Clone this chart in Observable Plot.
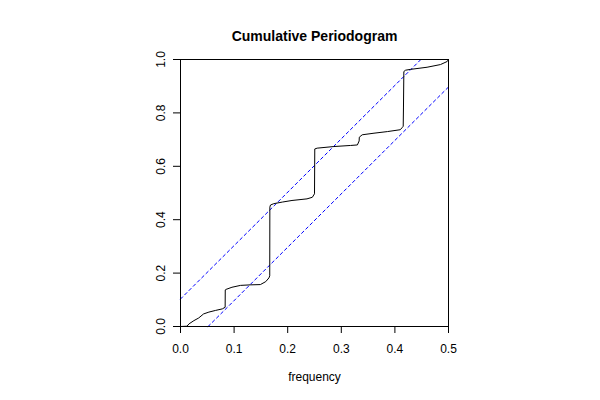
<!DOCTYPE html>
<html>
<head>
<meta charset="utf-8">
<script src="https://cdn.jsdelivr.net/npm/d3@7"></script>
<script src="https://cdn.jsdelivr.net/npm/@observablehq/plot@0.6"></script>
<style>
  html, body { margin: 0; padding: 0; background: #fff; }
  svg { font-family: "Liberation Sans", Arial, Helvetica, sans-serif; }
</style>
</head>
<body>
<div id="chart"></div>
<script>
// Cumulative periodogram step curve (frequency, cumulative value)
const freq = [0, 0.012, 0.016, 0.025, 0.034, 0.043, 0.053, 0.065, 0.078, 0.0833,
  0.0835, 0.085, 0.096, 0.112, 0.131, 0.149, 0.159, 0.165, 0.1665,
  0.1667, 0.1679, 0.174, 0.19, 0.208, 0.236, 0.246, 0.25,
  0.2505, 0.255, 0.286, 0.317, 0.33, 0.3333, 0.3336, 0.339, 0.361, 0.386, 0.41, 0.414,
  0.4155, 0.416, 0.4167, 0.42, 0.429, 0.46, 0.485, 0.4975, 0.5];
const cumval = [0, 0.001, 0.01, 0.022, 0.032, 0.047, 0.054, 0.06, 0.066, 0.072,
  0.137, 0.139, 0.147, 0.154, 0.156, 0.157, 0.168, 0.182, 0.19,
  0.447, 0.455, 0.46, 0.466, 0.472, 0.478, 0.484, 0.497,
  0.665, 0.668, 0.674, 0.678, 0.68, 0.695, 0.709, 0.718, 0.724, 0.73, 0.737, 0.746,
  0.75, 0.822, 0.955, 0.96, 0.963, 0.971, 0.981, 0.9925, 1.0];

// confidence band lines (endpoints where they meet the plot box)
const upperFreq = [0, 0.4485];
const upperVal = [0.103, 1.0];
const lowerFreq = [0.0515, 0.5];
const lowerVal = [0, 0.897];

const xTicks = [0, 0.1, 0.2, 0.3, 0.4, 0.5];
const yTicks = [0, 0.2, 0.4, 0.6, 0.8, 1.0];
const titleText = "Cumulative Periodogram";
const xLabel = "frequency";

const curve = freq.map((f, i) => ({f, v: cumval[i]}));
const upper = upperFreq.map((f, i) => ({f, v: upperVal[i]}));
const lower = lowerFreq.map((f, i) => ({f, v: lowerVal[i]}));

const chart = Plot.plot({
  width: 600,
  height: 400,
  marginLeft: 180,
  marginRight: 152,
  marginTop: 59,
  marginBottom: 74,
  style: {fontFamily: '"Liberation Sans", Arial, sans-serif', fontSize: "12px", background: "#fff"},
  x: {domain: [0, 0.5]},
  y: {domain: [0, 1]},
  marks: [
    Plot.line(upper, {x: "f", y: "v", stroke: "#0000ff", strokeWidth: 1, strokeDasharray: "3,3"}),
    Plot.line(lower, {x: "f", y: "v", stroke: "#0000ff", strokeWidth: 1, strokeDasharray: "3,3"}),
    Plot.line(curve, {x: "f", y: "v", stroke: "#000", strokeWidth: 1}),
    Plot.frame({stroke: "#000", strokeWidth: 1}),
    Plot.axisX(xTicks, {tickSize: 7, tickPadding: 11, tickFormat: d3.format(".1f"), fontSize: 12, label: null, stroke: "#000"}),
    Plot.axisY(yTicks, {tickSize: 7, tickPadding: 9, tickRotate: -90, tickFormat: d3.format(".1f"), fontSize: 12, label: null, stroke: "#000"}),
    Plot.text([xLabel], {frameAnchor: "bottom", dy: 54, text: d => d, fontSize: 12}),
    Plot.text([titleText], {frameAnchor: "top", dy: -28, text: d => d, fontSize: 14, fontWeight: "bold"})
  ]
});
document.getElementById("chart").appendChild(chart);
</script>
</body>
</html>
